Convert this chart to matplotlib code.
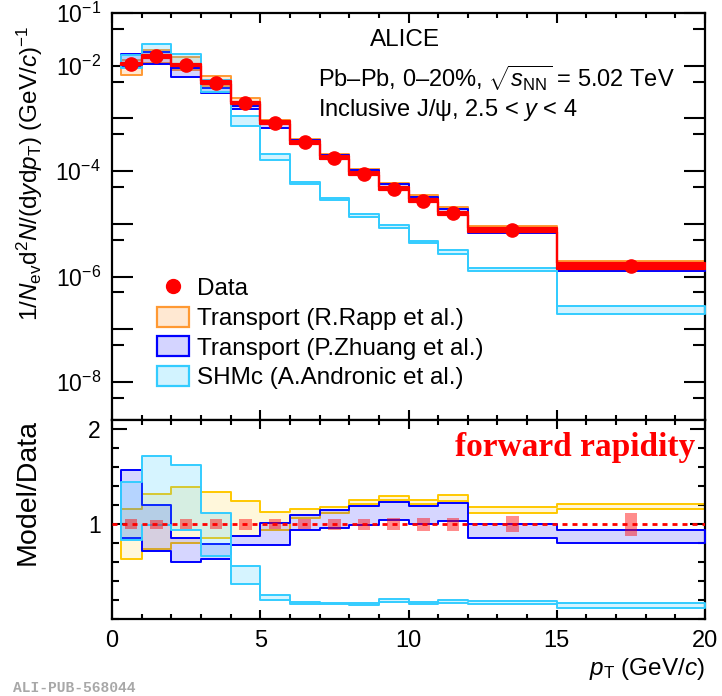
import numpy as np
import matplotlib
matplotlib.use('Agg')
import matplotlib.pyplot as plt
from matplotlib.ticker import FixedLocator, MultipleLocator, NullFormatter, FuncFormatter
from matplotlib.lines import Line2D
from matplotlib.patches import Patch

plt.rcParams['font.family'] = ['Liberation Sans', 'DejaVu Sans']
plt.rcParams['mathtext.fontset'] = 'custom'
plt.rcParams['mathtext.rm'] = 'Liberation Sans'
plt.rcParams['mathtext.it'] = 'Liberation Sans:italic'
plt.rcParams['mathtext.bf'] = 'Liberation Sans:bold'

# pT bins (GeV/c) and inclusive J/psi yields, Pb-Pb 0-20%, 2.5 < y < 4
pt_edges = [0.3, 1, 2, 3, 4, 5, 6, 7, 8, 9, 10, 11, 12, 15, 20]
pt_centers = [0.65, 1.5, 2.5, 3.5, 4.5, 5.5, 6.5, 7.5, 8.5, 9.5, 10.5, 11.5, 13.5, 17.5]
data_yield = [1.08e-2, 1.5e-2, 1.04e-2, 4.8e-3, 1.96e-3, 8.3e-4, 3.5e-4, 1.8e-4,
              8.9e-5, 4.6e-5, 2.75e-5, 1.6e-5, 7.8e-6, 1.6e-6]
data_sys = [0.055, 0.05, 0.055, 0.055, 0.06, 0.055, 0.055, 0.06, 0.06, 0.065,
            0.07, 0.07, 0.085, 0.12]

# model / data bands (lower, upper) per bin
rapp_lo = [0.63, 0.74, 0.80, 0.86, 0.88, 0.94, 1.07, 1.12, 1.21, 1.26, 1.21, 1.245, 1.12, 1.16]
rapp_hi = [1.165, 1.32, 1.39, 1.34, 1.24, 1.13, 1.165, 1.18, 1.26, 1.30, 1.26, 1.305, 1.18, 1.21]
zhuang_lo = [0.86, 0.716, 0.60, 0.63, 0.78, 0.78, 0.94, 0.96, 0.996, 1.04, 1.007, 1.03, 0.85, 0.80]
zhuang_hi = [1.57, 1.20, 0.86, 0.79, 0.88, 1.01, 1.10, 1.147, 1.19, 1.23, 1.19, 1.22, 1.0, 0.944]
shm_lo = [0.83, 0.99, 0.94, 0.66, 0.365, 0.20, 0.16, 0.155, 0.15, 0.18, 0.155, 0.165, 0.16, 0.12]
shm_hi = [1.45, 1.72, 1.63, 1.12, 0.556, 0.25, 0.18, 0.17, 0.17, 0.21, 0.175, 0.20, 0.19, 0.17]

yld = np.array(data_yield)
sys = np.array(data_sys)

ORANGE = '#ff9933'
GOLD = '#ffc800'
BLUE = '#0000ff'
CYAN = '#33ccff'


def band(ax, lo, hi, edge, face, lw=1.4, z=2):
    lo = list(lo) + [lo[-1]]
    hi = list(hi) + [hi[-1]]
    ax.fill_between(pt_edges, lo, hi, step='post', facecolor=face,
                    edgecolor=edge, linewidth=lw, zorder=z)


W, H = 722, 696
fig = plt.figure(figsize=(W / 100, H / 100), dpi=100)
ax1 = fig.add_axes([112 / W, 1 - 420 / H, 593 / W, 407 / H])
ax2 = fig.add_axes([112 / W, 1 - 619 / H, 593 / W, 199 / H])

# --- spectrum panel
band(ax1, yld * rapp_lo, yld * rapp_hi, ORANGE, (1, 0.6, 0.2, 0.22), z=2)
band(ax1, yld * zhuang_lo, yld * zhuang_hi, BLUE, (0, 0, 1, 0.17), z=3)
band(ax1, yld * shm_lo, yld * shm_hi, CYAN, (0.2, 0.8, 1, 0.22), z=4)
lo = list(yld * (1 - sys)) + [yld[-1] * (1 - sys[-1])]
hi = list(yld * (1 + sys)) + [yld[-1] * (1 + sys[-1])]
ax1.fill_between(pt_edges, lo, hi, step='post', facecolor='red', edgecolor='red',
                 linewidth=1.6, zorder=8)
ax1.plot(pt_centers, data_yield, 'o', color='red', ms=9.5, zorder=10)

ax1.set_yscale('log')
ax1.set_xlim(0, 20)
ax1.set_ylim(1.9e-9, 0.1)
ax1.yaxis.set_major_locator(FixedLocator([10.0 ** k for k in range(-9, 0)]))
ax1.yaxis.set_minor_locator(FixedLocator([5 * 10.0 ** k for k in range(-9, -1)]))
ax1.yaxis.set_minor_formatter(NullFormatter())
shown = {-1, -2, -4, -6, -8}
ax1.yaxis.set_major_formatter(FuncFormatter(
    lambda v, p: r'$10^{%d}$' % round(np.log10(v)) if round(np.log10(v)) in shown else ''))
ax1.xaxis.set_major_locator(MultipleLocator(5))
ax1.xaxis.set_minor_locator(MultipleLocator(1))
ax1.tick_params(axis='x', labelbottom=False)
ax1.tick_params(which='both', direction='in', top=True, right=True, width=1.5)
ax1.tick_params(axis='x', which='major', length=7)
ax1.tick_params(axis='x', which='minor', length=3.6)
ax1.tick_params(axis='y', which='major', length=15, labelsize=16.5, pad=8)
ax1.tick_params(axis='y', which='minor', length=8.6)
ax1.set_ylabel(r'$1/N_{\rm ev}{\rm d}^2N/({\rm d}y{\rm d}p_{\rm T})$ (GeV/$c$)$^{-1}$',
               fontsize=17.5)
ax1.yaxis.set_label_coords(-0.113, 0.607)

ax1.text(0.494, 0.934, 'ALICE', transform=ax1.transAxes, ha='center', va='center',
         fontsize=17.5)
ax1.text(0.347, 0.840, r'Pb–Pb, 0–20%, $\sqrt{s_{\rm NN}}$ = 5.02 TeV',
         transform=ax1.transAxes, ha='left', va='center', fontsize=17)
ax1.text(0.347, 0.762, r'Inclusive J/ψ, 2.5 < $y$ < 4',
         transform=ax1.transAxes, ha='left', va='center', fontsize=17)

handles = [
    Line2D([], [], marker='o', color='red', ls='none', ms=10),
    Patch(facecolor=(1, 0.6, 0.2, 0.22), edgecolor=ORANGE, lw=1.6),
    Patch(facecolor=(0, 0, 1, 0.17), edgecolor=BLUE, lw=1.6),
    Patch(facecolor=(0.2, 0.8, 1, 0.22), edgecolor=CYAN, lw=1.6),
]
labels = ['Data', 'Transport (R.Rapp et al.)', 'Transport (P.Zhuang et al.)',
          'SHMc (A.Andronic et al.)']
ax1.legend(handles, labels, loc='upper left', bbox_to_anchor=((157 - 112) / 593, (420 - 277) / 407),
           frameon=False, fontsize=17.5, handlelength=1.33, handleheight=0.9,
           labelspacing=0.25, handletextpad=0.3, borderaxespad=0, borderpad=0)

# --- ratio panel
band(ax2, rapp_lo, rapp_hi, GOLD, (1, 0.8, 0, 0.14), z=2)
band(ax2, zhuang_lo, zhuang_hi, BLUE, (0, 0, 1, 0.16), z=3)
band(ax2, shm_lo, shm_hi, CYAN, (0.2, 0.8, 1, 0.2), z=4)
ax2.bar(pt_centers, 2 * sys, bottom=1 - sys, width=0.42, color=(1, 0, 0, 0.45),
        linewidth=0, zorder=7)
ax2.axhline(1, color='red', lw=2, dashes=(1.8, 1.8), zorder=9)

ax2.set_xlim(0, 20)
ax2.set_ylim(0, 2.1)
ax2.yaxis.set_major_locator(FixedLocator([1, 2]))
ax2.yaxis.set_minor_locator(MultipleLocator(0.2))
ax2.xaxis.set_major_locator(MultipleLocator(5))
ax2.xaxis.set_minor_locator(MultipleLocator(1))
ax2.tick_params(which='both', direction='in', top=True, right=True, width=1.5)
ax2.tick_params(axis='x', which='major', length=6.5, labelsize=17, pad=8)
ax2.tick_params(axis='x', which='minor', length=3.3)
ax2.tick_params(axis='y', which='major', length=10.8, labelsize=16.5, pad=8)
ax2.tick_params(axis='y', which='minor', length=5)
ax2.set_ylabel('Model/Data', fontsize=20.5)
ax2.yaxis.set_label_coords(-0.12, 0.638)
ax2.set_xlabel(r'$p_{\rm T}$ (GeV/$c$)', fontsize=17.5, loc='right', labelpad=3)

ax2.text(0.983, 0.864, 'forward rapidity', transform=ax2.transAxes, ha='right',
         va='center', color='red', fontsize=24, fontweight='bold',
         family='Liberation Serif')

for ax in (ax1, ax2):
    for s in ax.spines.values():
        s.set_linewidth(1.6)

fig.text(13 / W, 1 - 688 / H, 'ALI-PUB-568044', family='Liberation Mono',
         fontweight='bold', color='#a8a8a8', fontsize=10.5, va='center')

fig.savefig('out.png', dpi=100)
